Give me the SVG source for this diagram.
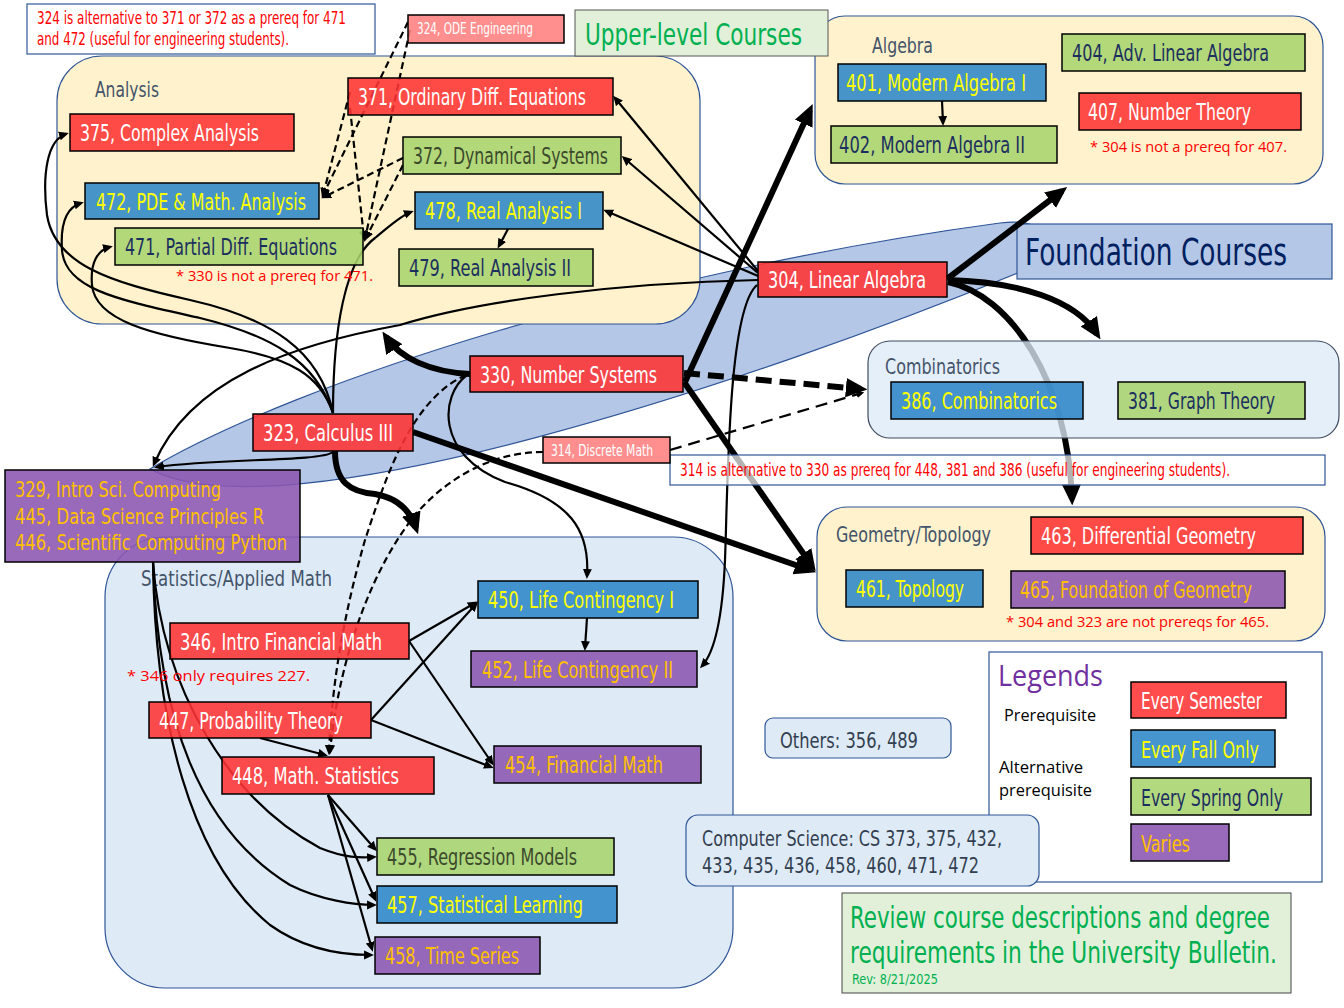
<svg xmlns="http://www.w3.org/2000/svg" width="1344" height="1008" viewBox="0 0 1344 1008">
<style>
.nb{stroke:#000;stroke-width:1.5;fill-opacity:.88}
.r{fill:#FF3333}.b{fill:#2E86C8}.g{fill:#A9D46D}.p{fill:#8B55B0}.s{fill:#FF7F7F}
text{font-family:"Liberation Sans Narrow","DejaVu Sans Condensed","Liberation Sans",sans-serif}
.n{font-size:23px}
.sm{font-size:15px}
.w{fill:#fff}.y{fill:#FFFF00}.o{fill:#FFC000}.nv{fill:#1B2F5E}.ol{fill:#3B4A2C}
.grp{fill:#FFF2CC;stroke:#2F5597;stroke-width:1.2}
.gb{fill:#DEEBF7;stroke:#2F5597;stroke-width:1.2}
.gl{font-size:22px;fill:#44546A}
.c{fill:none;stroke:#000;stroke-width:2.2}
.t{fill:none;stroke:#000;stroke-width:6}
.d{stroke-dasharray:7 4}
text.cal{font-family:"Open Sans","Noto Sans","Liberation Sans",sans-serif}
.red{fill:#FF0000}
.note{fill:#fff;stroke:#2F5597;stroke-width:1.2}
.sl{font-size:22px;fill:#333F50}
</style>
<defs>
<marker id="a" viewBox="0 0 10 10" refX="7" refY="5" markerWidth="4.5" markerHeight="4.5" orient="auto"><path d="M0,0.5 L10,5 L0,9.5 z" fill="#000"/></marker>
<marker id="A" viewBox="0 0 10 10" refX="7" refY="5" markerWidth="3.6" markerHeight="3.6" orient="auto"><path d="M0,0.5 L10,5 L0,9.5 z" fill="#000"/></marker>
<marker id="m" viewBox="0 0 10 10" refX="7" refY="5" markerWidth="3" markerHeight="3" orient="auto"><path d="M0,0.5 L10,5 L0,9.5 z" fill="#000"/></marker>
</defs>
<rect width="1344" height="1008" fill="#fff"/>

<!-- Foundation ellipse -->
<path id="foundation-band" d="M150,469 C300,380 650,270 1000,223 C1040,218 1060,235 1030,268 C760,380 280,540 150,469 Z" fill="#B4C7E7" stroke="#2F5597" stroke-width="1.2"/>

<!-- groups -->
<g id="grp-analysis"><rect class="grp" x="57" y="56" width="643" height="268" rx="45"/><text class="gl" x="95" y="97" textLength="64" lengthAdjust="spacingAndGlyphs">Analysis</text></g>
<g id="grp-algebra"><rect class="grp" x="815" y="16" width="508" height="168" rx="30"/><text class="gl" x="872" y="53" textLength="61" lengthAdjust="spacingAndGlyphs">Algebra</text></g>
<g id="grp-stats"><rect class="gb" x="105" y="537" width="628" height="451" rx="60"/><text class="gl" x="141" y="586" textLength="191" lengthAdjust="spacingAndGlyphs">Statistics/Applied Math</text></g>
<g id="grp-geometry"><rect class="grp" x="817" y="507" width="508" height="134" rx="30"/><text class="gl" x="836" y="542" textLength="155" lengthAdjust="spacingAndGlyphs">Geometry/Topology</text></g>
<g id="foundation-title"><rect x="1017" y="224" width="315" height="55" fill="#B4C7E7" stroke="#2F5597" stroke-width="1.2"/><text x="1025" y="265" font-size="38" fill="#002060" textLength="262" lengthAdjust="spacingAndGlyphs">Foundation Courses</text></g>
<g id="upper-title"><rect x="575" y="10" width="253" height="46" fill="#E2F0D9" stroke="#555" stroke-width="1"/><text x="585" y="45" font-size="30" fill="#00B050" textLength="217" lengthAdjust="spacingAndGlyphs">Upper-level Courses</text></g>

<!-- connectors -->
<g id="connectors">
<path class="t" d="M948,282 C1010,295 1068,380 1072,499" marker-end="url(#A)"/>
<path class="c" d="M758,271 L615,98" marker-end="url(#a)"/>
<path class="c" d="M758,273 L624,158" marker-end="url(#a)"/>
<path class="c" d="M758,276 L606,211" marker-end="url(#a)"/>
<path class="c" d="M758,280 C620,283 480,300 400,325 C290,345 190,380 154,464" marker-end="url(#a)"/>
<path class="c" d="M757,285 C728,310 728,480 725,560 C722,630 712,655 702,666" marker-end="url(#a)"/>
<path class="c" d="M467,375 C440,395 435,455 505,482 C570,500 590,530 587,576" marker-end="url(#a)"/>
<path class="c" d="M333,413 C320,350 270,318 190,300 C110,282 55,265 47,215 C42,175 47,140 66,134" marker-end="url(#a)"/>
<path class="c" d="M333,413 C315,360 270,335 200,318 C120,300 65,290 62,250 C60,220 68,207 81,203" marker-end="url(#a)"/>
<path class="c" d="M333,413 C320,375 290,358 230,348 C150,335 95,320 92,285 C90,262 98,250 110,247" marker-end="url(#a)"/>
<path class="c" d="M333,413 C333,330 345,260 375,238 C390,226 400,216 411,212" marker-end="url(#a)"/>
<path class="c" d="M333,452 C320,462 220,458 157,467" marker-end="url(#a)"/>
<path class="c" d="M153,562 C162,690 230,800 320,848 C345,858 360,858 374,857" marker-end="url(#a)"/>
<path class="c" d="M153,562 C158,720 200,830 290,885 C320,900 355,905 374,905" marker-end="url(#a)"/>
<path class="c" d="M153,562 C155,720 190,860 270,925 C305,950 345,955 371,955" marker-end="url(#a)"/>
<path class="c" d="M328,795 L375,849" marker-end="url(#a)"/>
<path class="c" d="M328,795 L375,899" marker-end="url(#a)"/>
<path class="c" d="M328,795 L372,949" marker-end="url(#a)"/>
<path class="c" d="M260,738 L325,755" marker-end="url(#a)"/>
<path class="c" d="M409,641 L475,603" marker-end="url(#a)"/>
<path class="c" d="M409,641 L492,763" marker-end="url(#a)"/>
<path class="c" d="M371,720 L476,604" marker-end="url(#a)"/>
<path class="c" d="M371,720 L491,767" marker-end="url(#a)"/>
<path class="c" d="M587,618 L585,648" marker-end="url(#a)"/>
<path class="c" d="M508,229 L499,246" marker-end="url(#a)"/>
<path class="c" d="M942,101 L943,123" marker-end="url(#a)"/>
<path class="t" d="M947,279 L1062,191" marker-end="url(#A)"/>
<path class="t" d="M948,280 C1020,282 1075,300 1097,334" marker-end="url(#A)"/>
<path class="t" d="M470,374 C430,372 400,358 386,337" marker-end="url(#A)"/>
<path class="t" d="M685,382 L810,110" marker-end="url(#A)"/>
<path class="t" d="M684,382 L812,566" marker-end="url(#A)"/>
<path class="t" d="M413,432 L810,570" marker-end="url(#A)"/>
<path class="t" d="M335,451 C335,482 350,492 375,494 C398,498 410,510 416,528" marker-end="url(#A)"/>
<path class="c d" stroke-width="2.5" d="M408,22 L323,195" marker-end="url(#a)"/>
<path class="c d" stroke-width="2.5" d="M410,30 L365,239" marker-end="url(#a)"/>
<path class="c d" stroke-width="2.5" d="M350,92 L323,195" marker-end="url(#a)"/>
<path class="c d" stroke-width="2.5" d="M350,108 L364,238" marker-end="url(#a)"/>
<path class="c d" stroke-width="2.5" d="M403,158 L324,197" marker-end="url(#a)"/>
<path class="c d" stroke-width="2.5" d="M403,165 L366,238" marker-end="url(#a)"/>
<path class="c d" stroke-width="2.5" d="M466,375 C410,400 385,480 365,540 C345,610 332,680 329,752" marker-end="url(#a)"/>
<path class="c d" stroke-width="2.5" d="M543,452 C490,452 445,480 415,515 C375,565 340,650 330,752" marker-end="url(#a)"/>
<path class="t" stroke-dasharray="16 8" d="M684,373 L861,389" marker-end="url(#A)"/>
<path class="c" stroke-width="4" stroke-dasharray="12 7" d="M670,450 L862,393" marker-end="url(#A)"/>
<path class="c" stroke-width="3" d="M1004,700 L1062,700" marker-end="url(#m)"/>
<path class="c d" stroke-width="3" d="M1004,751 L1070,751" marker-end="url(#m)"/>
</g>

<g id="grp-combinatorics"><rect x="868" y="341" width="471" height="97" rx="22" fill="#DEEBF7" fill-opacity=".78" stroke="#3F4A5E" stroke-width="1.2"/><text class="gl" x="885" y="374" textLength="115" lengthAdjust="spacingAndGlyphs">Combinatorics</text></g>

<!-- notes -->
<g id="note-324"><rect class="note" x="27" y="4" width="348" height="50"/><text class="red" font-size="17" x="37" y="24" textLength="309" lengthAdjust="spacingAndGlyphs">324 is alternative to 371 or 372 as a prereq for 471</text><text class="red" font-size="17" x="37" y="45" textLength="252" lengthAdjust="spacingAndGlyphs">and 472 (useful for engineering students).</text></g>
<g id="note-314"><rect class="note" x="670" y="455" width="655" height="30" fill-opacity=".7"/><text class="red" font-size="17" x="680" y="476" textLength="550" lengthAdjust="spacingAndGlyphs">314 is alternative to 330 as prereq for 448, 381 and 386 (useful for engineering students).</text></g>
<text class="cal red" font-size="15" x="176" y="281" textLength="197" lengthAdjust="spacingAndGlyphs">* 330 is not a prereq for 471.</text>
<text class="cal red" font-size="15" x="1090" y="152" textLength="197" lengthAdjust="spacingAndGlyphs">* 304 is not a prereq for 407.</text>
<text class="cal red" font-size="15" x="1006" y="627" textLength="263" lengthAdjust="spacingAndGlyphs">* 304 and 323 are not prereqs for 465.</text>
<text class="cal red" font-size="15" x="127" y="681" textLength="183" lengthAdjust="spacingAndGlyphs">* 346 only requires 227.</text>

<!-- nodes -->
<g id="n375"><rect class="nb r" x="70" y="114" width="224" height="37"/><text class="n w" x="80" y="141" textLength="179" lengthAdjust="spacingAndGlyphs">375, Complex Analysis</text></g>
<g id="n371"><rect class="nb r" x="348" y="78" width="265" height="37"/><text class="n w" x="358" y="105" textLength="228" lengthAdjust="spacingAndGlyphs">371, Ordinary Diff. Equations</text></g>
<g id="n372"><rect class="nb g" x="403" y="137" width="218" height="37"/><text class="n ol" x="413" y="164" textLength="195" lengthAdjust="spacingAndGlyphs">372, Dynamical Systems</text></g>
<g id="n472"><rect class="nb b" x="85" y="183" width="234" height="36"/><text class="n y" x="96" y="210" textLength="210" lengthAdjust="spacingAndGlyphs">472, PDE &amp; Math. Analysis</text></g>
<g id="n478"><rect class="nb b" x="415" y="192" width="188" height="37"/><text class="n y" x="425" y="219" textLength="157" lengthAdjust="spacingAndGlyphs">478, Real Analysis I</text></g>
<g id="n471"><rect class="nb g" x="115" y="228" width="248" height="37"/><text class="n nv" x="125" y="255" textLength="212" lengthAdjust="spacingAndGlyphs">471, Partial Diff. Equations</text></g>
<g id="n479"><rect class="nb g" x="399" y="249" width="194" height="37"/><text class="n nv" x="409" y="276" textLength="162" lengthAdjust="spacingAndGlyphs">479, Real Analysis II</text></g>
<g id="n324"><rect class="nb s" x="408" y="15" width="156" height="28"/><text class="sm w" x="417" y="34" textLength="116" lengthAdjust="spacingAndGlyphs">324, ODE Engineering</text></g>
<g id="n401"><rect class="nb b" x="838" y="64" width="208" height="37"/><text class="n y" x="846" y="91" textLength="180" lengthAdjust="spacingAndGlyphs">401, Modern Algebra I</text></g>
<g id="n402"><rect class="nb g" x="831" y="126" width="226" height="37"/><text class="n nv" x="839" y="153" textLength="186" lengthAdjust="spacingAndGlyphs">402, Modern Algebra II</text></g>
<g id="n404"><rect class="nb g" x="1062" y="34" width="243" height="37"/><text class="n nv" x="1072" y="61" textLength="197" lengthAdjust="spacingAndGlyphs">404, Adv. Linear Algebra</text></g>
<g id="n407"><rect class="nb r" x="1079" y="93" width="222" height="37"/><text class="n w" x="1088" y="120" textLength="163" lengthAdjust="spacingAndGlyphs">407, Number Theory</text></g>
<g id="n304"><rect class="nb r" x="758" y="262" width="189" height="35"/><text class="n w" x="768" y="288" textLength="158" lengthAdjust="spacingAndGlyphs">304, Linear Algebra</text></g>
<g id="n330"><rect class="nb r" x="470" y="356" width="213" height="36"/><text class="n w" x="480" y="383" textLength="177" lengthAdjust="spacingAndGlyphs">330, Number Systems</text></g>
<g id="n323"><rect class="nb r" x="253" y="414" width="160" height="37"/><text class="n w" x="263" y="441" textLength="130" lengthAdjust="spacingAndGlyphs">323, Calculus III</text></g>
<g id="n314"><rect class="nb s" x="543" y="437" width="127" height="26"/><text class="sm w" x="551" y="456" textLength="102" lengthAdjust="spacingAndGlyphs">314, Discrete Math</text></g>
<g id="n386"><rect class="nb b" x="891" y="382" width="192" height="37"/><text class="n y" x="901" y="409" textLength="156" lengthAdjust="spacingAndGlyphs">386, Combinatorics</text></g>
<g id="n381"><rect class="nb g" x="1118" y="382" width="187" height="37"/><text class="n nv" x="1128" y="409" textLength="147" lengthAdjust="spacingAndGlyphs">381, Graph Theory</text></g>
<g id="n463"><rect class="nb r" x="1031" y="517" width="272" height="37"/><text class="n w" x="1041" y="544" textLength="215" lengthAdjust="spacingAndGlyphs">463, Differential Geometry</text></g>
<g id="n461"><rect class="nb b" x="846" y="570" width="137" height="37"/><text class="n y" x="856" y="597" textLength="108" lengthAdjust="spacingAndGlyphs">461, Topology</text></g>
<g id="n465"><rect class="nb p" x="1011" y="571" width="274" height="37"/><text class="n o" x="1020" y="598" textLength="232" lengthAdjust="spacingAndGlyphs">465, Foundation of Geometry</text></g>
<g id="n329"><rect class="nb p" x="5" y="470" width="295" height="92" fill-opacity=".82"/><text class="o" font-size="22" x="15" y="497" textLength="206" lengthAdjust="spacingAndGlyphs">329, Intro Sci. Computing</text><text class="o" font-size="22" x="15" y="524" textLength="249" lengthAdjust="spacingAndGlyphs">445, Data Science Principles R</text><text class="o" font-size="22" x="15" y="550" textLength="272" lengthAdjust="spacingAndGlyphs">446, Scientific Computing Python</text></g>
<g id="n346"><rect class="nb r" x="170" y="623" width="239" height="36"/><text class="n w" x="180" y="650" textLength="202" lengthAdjust="spacingAndGlyphs">346, Intro Financial Math</text></g>
<g id="n447"><rect class="nb r" x="149" y="702" width="222" height="36"/><text class="n w" x="159" y="729" textLength="184" lengthAdjust="spacingAndGlyphs">447, Probability Theory</text></g>
<g id="n448"><rect class="nb r" x="222" y="757" width="212" height="37"/><text class="n w" x="232" y="784" textLength="167" lengthAdjust="spacingAndGlyphs">448, Math. Statistics</text></g>
<g id="n450"><rect class="nb b" x="478" y="581" width="220" height="37"/><text class="n y" x="488" y="608" textLength="186" lengthAdjust="spacingAndGlyphs">450, Life Contingency I</text></g>
<g id="n452"><rect class="nb p" x="471" y="651" width="226" height="36"/><text class="n o" x="482" y="678" textLength="191" lengthAdjust="spacingAndGlyphs">452, Life Contingency II</text></g>
<g id="n454"><rect class="nb p" x="494" y="746" width="207" height="37"/><text class="n o" x="505" y="773" textLength="158" lengthAdjust="spacingAndGlyphs">454, Financial Math</text></g>
<g id="n455"><rect class="nb g" x="377" y="838" width="237" height="37"/><text class="n ol" x="387" y="865" textLength="190" lengthAdjust="spacingAndGlyphs">455, Regression Models</text></g>
<g id="n457"><rect class="nb b" x="377" y="886" width="240" height="37"/><text class="n y" x="387" y="913" textLength="196" lengthAdjust="spacingAndGlyphs">457, Statistical Learning</text></g>
<g id="n458"><rect class="nb p" x="375" y="937" width="165" height="37"/><text class="n o" x="385" y="964" textLength="134" lengthAdjust="spacingAndGlyphs">458, Time Series</text></g>

<!-- others -->
<g id="others"><rect class="gb" x="765" y="718" width="186" height="40" rx="8"/><text class="sl" x="780" y="748" textLength="138" lengthAdjust="spacingAndGlyphs">Others: 356, 489</text></g>

<!-- legend -->
<g id="legend">
<rect x="989" y="652" width="333" height="230" fill="#fff" stroke="#2F5597" stroke-width="1.2"/>
<text class="cal" font-size="29" fill="#7030A0" x="998" y="686" textLength="105" lengthAdjust="spacingAndGlyphs">Legends</text>
<text class="cal" font-size="16" fill="#000" x="1004" y="721" textLength="92" lengthAdjust="spacingAndGlyphs">Prerequisite</text>
<text class="cal" font-size="16" fill="#000" x="999" y="773" textLength="84" lengthAdjust="spacingAndGlyphs">Alternative</text>
<text class="cal" font-size="16" fill="#000" x="999" y="796" textLength="93" lengthAdjust="spacingAndGlyphs">prerequisite</text>
<rect class="nb r" x="1131" y="682" width="155" height="36"/><text class="n w" x="1141" y="709" textLength="121" lengthAdjust="spacingAndGlyphs">Every Semester</text>
<rect class="nb b" x="1131" y="730" width="144" height="37"/><text class="n y" x="1141" y="758" textLength="118" lengthAdjust="spacingAndGlyphs">Every Fall Only</text>
<rect class="nb g" x="1131" y="778" width="180" height="37"/><text class="n nv" x="1141" y="806" textLength="142" lengthAdjust="spacingAndGlyphs">Every Spring Only</text>
<rect class="nb p" x="1131" y="824" width="98" height="37"/><text class="n o" x="1141" y="852" textLength="49" lengthAdjust="spacingAndGlyphs">Varies</text>
</g>

<g id="cs"><rect class="gb" x="686" y="815" width="353" height="71" rx="12"/><text class="sl" x="702" y="846" textLength="300" lengthAdjust="spacingAndGlyphs">Computer Science: CS 373, 375, 432,</text><text class="sl" x="702" y="873" textLength="277" lengthAdjust="spacingAndGlyphs">433, 435, 436, 458, 460, 471, 472</text></g>

<g id="review"><rect x="842" y="893" width="449" height="100" fill="#E2F0D9" stroke="#444" stroke-width="1"/><text font-size="31" fill="#00B050" x="850" y="928" textLength="420" lengthAdjust="spacingAndGlyphs">Review course descriptions and degree</text><text font-size="31" fill="#00B050" x="850" y="963" textLength="427" lengthAdjust="spacingAndGlyphs">requirements in the University Bulletin.</text><text font-size="14" fill="#00B050" x="852" y="984" textLength="86" lengthAdjust="spacingAndGlyphs">Rev: 8/21/2025</text></g>
</svg>
